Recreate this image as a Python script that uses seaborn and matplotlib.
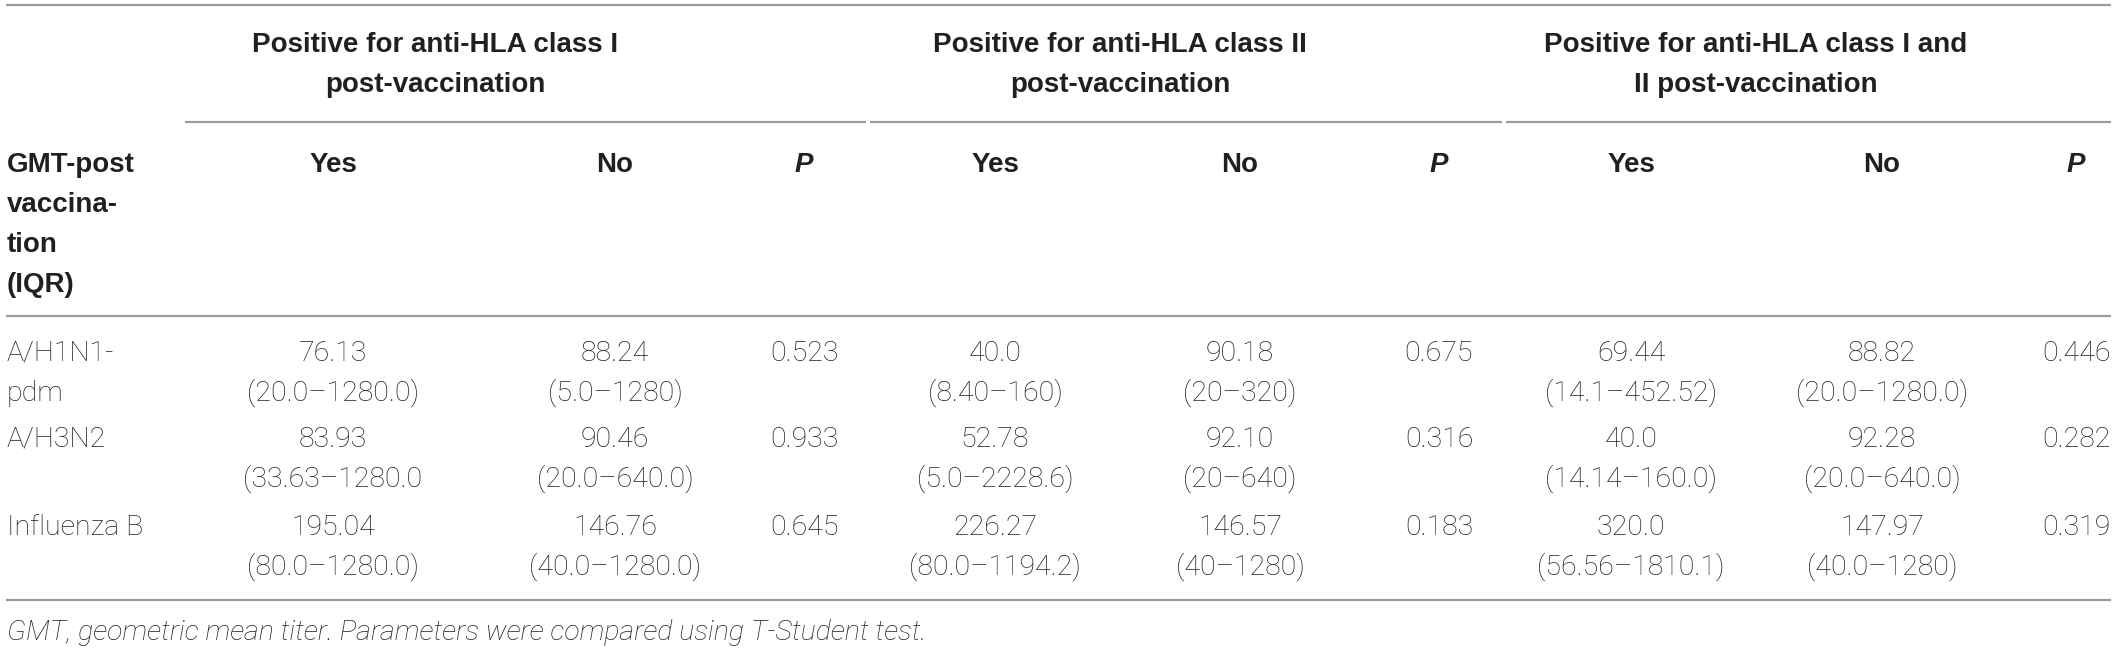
import seaborn as sns
import matplotlib.pyplot as plt
import pandas as pd

# table content
viruses = ["A/H1N1-\npdm", "A/H3N2", "Influenza B"]
group_titles = [
    "Positive for anti-HLA class I\npost-vaccination",
    "Positive for anti-HLA class II\npost-vaccination",
    "Positive for anti-HLA class I and\nII post-vaccination",
]
sub_headers = ["Yes", "No", "P"]
row_header = "GMT-post\nvaccina-\ntion\n(IQR)"

class1_yes_gmt = ["76.13", "83.93", "195.04"]
class1_yes_iqr = ["(20.0–1280.0)", "(33.63–1280.0", "(80.0–1280.0)"]
class1_no_gmt = ["88.24", "90.46", "146.76"]
class1_no_iqr = ["(5.0–1280)", "(20.0–640.0)", "(40.0–1280.0)"]
class1_p = ["0.523", "0.933", "0.645"]

class2_yes_gmt = ["40.0", "52.78", "226.27"]
class2_yes_iqr = ["(8.40–160)", "(5.0–2228.6)", "(80.0–1194.2)"]
class2_no_gmt = ["90.18", "92.10", "146.57"]
class2_no_iqr = ["(20–320)", "(20–640)", "(40–1280)"]
class2_p = ["0.675", "0.316", "0.183"]

both_yes_gmt = ["69.44", "40.0", "320.0"]
both_yes_iqr = ["(14.1–452.52)", "(14.14–160.0)", "(56.56–1810.1)"]
both_no_gmt = ["88.82", "92.28", "147.97"]
both_no_iqr = ["(20.0–1280.0)", "(20.0–640.0)", "(40.0–1280)"]
both_p = ["0.446", "0.282", "0.319"]

footnote = "GMT, geometric mean titer. Parameters were compared using T-Student test."

df = pd.DataFrame({
    "virus": viruses,
    "c1_yes": [g + "\n" + i for g, i in zip(class1_yes_gmt, class1_yes_iqr)],
    "c1_no": [g + "\n" + i for g, i in zip(class1_no_gmt, class1_no_iqr)],
    "c1_p": class1_p,
    "c2_yes": [g + "\n" + i for g, i in zip(class2_yes_gmt, class2_yes_iqr)],
    "c2_no": [g + "\n" + i for g, i in zip(class2_no_gmt, class2_no_iqr)],
    "c2_p": class2_p,
    "c3_yes": [g + "\n" + i for g, i in zip(both_yes_gmt, both_yes_iqr)],
    "c3_no": [g + "\n" + i for g, i in zip(both_no_gmt, both_no_iqr)],
    "c3_p": both_p,
})

sns.set_style("white")
plt.rcParams["font.family"] = ["Liberation Sans", "DejaVu Sans"]
body_font = ["Roboto", "Liberation Sans", "DejaVu Sans"]

W, H = 2118, 649
fig = plt.figure(figsize=(W / 100, H / 100), dpi=100)
ax = fig.add_axes([0, 0, 1, 1])
ax.set_xlim(0, W)
ax.set_ylim(H, 0)
ax.axis("off")

ink = "#231f20"
rule = "#9c9c9c"
fs_head = 20
fs_body = 20.5
lh = 40    # line height in px
drop = 9   # text centre -> baseline

col_x = [333, 615, 804, 995, 1240, 1439, 1631, 1882, 2076]
group_x = [435, 1120, 1756]
left_x = 7


def head(x, y, s, ha="center", italic=False):
    ax.text(x, y + drop, s, ha=ha, va="baseline", fontsize=fs_head,
            fontweight="bold", style="italic" if italic else "normal",
            color=ink)


def body(x, y, s, ha="center", italic=False):
    ax.text(x, y + drop, s, ha=ha, va="baseline", fontsize=fs_body,
            family=body_font, fontweight="light",
            style="italic" if italic else "normal", color=ink)


# horizontal rules
ax.hlines([5, 316, 600], 6, 2111, color=rule, lw=1.6)
for x0, x1 in [(185, 866), (870, 1502), (1506, 2111)]:
    ax.hlines(122, x0, x1, color=rule, lw=1.6)

# group headers
for gx, title in zip(group_x, group_titles):
    for k, line in enumerate(title.split("\n")):
        head(gx, 43 + k * 40, line)

# sub headers
for i, x in enumerate(col_x):
    lab = sub_headers[i % 3]
    head(x, 163, lab, italic=(lab == "P"))

for k, line in enumerate(row_header.split("\n")):
    head(left_x, 163 + k * lh, line, ha="left")

# body
row_y = [352, 438, 526]
cols = ["c1_yes", "c1_no", "c1_p", "c2_yes", "c2_no", "c2_p",
        "c3_yes", "c3_no", "c3_p"]
for r, (_, row) in enumerate(df.iterrows()):
    y0 = row_y[r]
    for k, line in enumerate(row["virus"].split("\n")):
        body(left_x, y0 + k * lh, line, ha="left")
    for x, c in zip(col_x, cols):
        for k, line in enumerate(row[c].split("\n")):
            body(x, y0 + k * lh, line)

body(left_x, 631, footnote, ha="left", italic=True)

fig.savefig("out.png", dpi=100)
